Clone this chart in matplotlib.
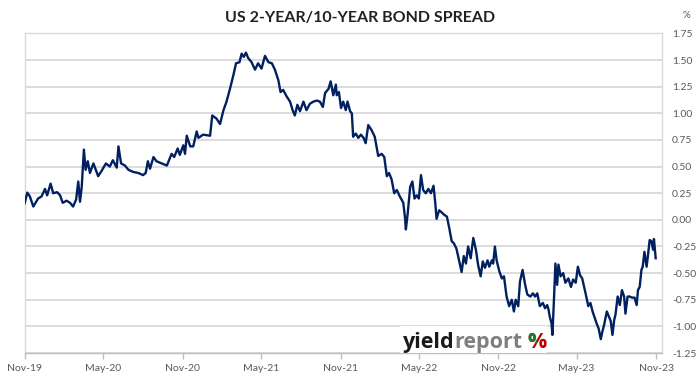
import matplotlib
matplotlib.use("Agg")
import matplotlib.pyplot as plt
import matplotlib.dates as mdates
from matplotlib.patches import Rectangle
from matplotlib.ticker import MultipleLocator, FormatStrFormatter
import pandas as pd

TITLE = "US 2-YEAR/10-YEAR BOND SPREAD"
START = "2019-11-01"

# days after START
day_offsets = [
    0, 6, 12, 20, 31, 39, 47, 52, 60, 66, 75, 82, 88, 97, 105, 112, 119, 124, 128, 132,
    137, 141, 146, 151, 159, 170, 178, 188, 197, 204, 213, 217, 223, 232,
    240, 251, 263, 274, 280, 285, 290, 298, 305, 317, 329, 340, 346, 354, 359, 367,
    371, 375, 383, 390, 398, 402, 413, 429, 434, 444, 452, 460, 467, 475, 483,
    489, 497, 502, 507, 512, 517, 525, 533, 540, 548, 556, 564, 572, 579, 587,
    592, 598, 606, 614, 620, 625, 631, 637, 645, 652, 660, 668, 676, 683, 690,
    695, 703, 708, 714, 720,
    722, 727, 732, 737, 743, 747, 753, 757, 760, 766, 772, 778, 784, 789, 795,
    803, 810, 818, 826, 832, 838, 843, 849, 855, 861, 868, 876, 880, 882, 886,
    892, 897, 902, 907, 912, 917, 922, 928, 934, 940, 946, 950, 953, 959, 965, 970,
    977, 983, 988, 993, 999, 1005, 1011, 1016, 1021, 1026, 1032, 1038, 1044, 1049,
    1055, 1060, 1065, 1071, 1075, 1081, 1084, 1088, 1092, 1098, 1104, 1109, 1115,
    1121, 1127, 1132, 1136, 1142, 1146, 1152, 1158, 1163, 1170, 1176, 1181, 1186,
    1192, 1199, 1204, 1209,
    1212, 1215, 1219, 1221, 1224, 1228, 1232, 1235, 1240, 1246, 1251, 1258, 1264,
    1269, 1275, 1280, 1285, 1290, 1295, 1300, 1304, 1309, 1314, 1319, 1324, 1328,
    1333, 1336, 1341, 1347, 1350, 1356, 1360, 1364, 1367, 1372, 1377, 1382, 1387,
    1390, 1395, 1400, 1405, 1411, 1416, 1419, 1423, 1427, 1430, 1434, 1439, 1442,
    1446, 1450, 1454, 1456, 1460,
]

# 10y minus 2y yield, %
spread = [
    0.156, 0.256, 0.22, 0.125, 0.20, 0.22, 0.29, 0.23, 0.34, 0.25, 0.26, 0.23, 0.16, 0.18, 0.16, 0.125, 0.19, 0.36, 0.17, 0.31,
    0.66, 0.47, 0.55, 0.44, 0.53, 0.41, 0.46, 0.53, 0.50, 0.56, 0.49, 0.69, 0.53, 0.51,
    0.47, 0.45, 0.44, 0.42, 0.44, 0.55, 0.48, 0.59, 0.55, 0.53, 0.51, 0.62, 0.59, 0.67, 0.61, 0.70,
    0.62, 0.79, 0.69, 0.69, 0.83, 0.77, 0.80, 0.79, 0.98, 0.95, 0.90, 1.03, 1.11, 1.23, 1.36,
    1.47, 1.48, 1.56, 1.53, 1.57, 1.52, 1.48, 1.41, 1.47, 1.42, 1.54, 1.48, 1.47, 1.41, 1.31,
    1.20, 1.22, 1.16, 1.11, 1.03, 0.98, 1.08, 1.02, 1.11, 1.03, 1.09, 1.11, 1.12, 1.11, 1.06,
    1.19, 1.23, 1.30, 1.17, 1.27,
    1.17, 1.20, 1.05, 1.11, 1.03, 1.11, 1.02, 1.00, 0.78, 0.81, 0.77, 0.80, 0.77, 0.72, 0.89,
    0.84, 0.78, 0.60, 0.62, 0.59, 0.41, 0.44, 0.38, 0.25, 0.28, 0.22, 0.16, 0.02, -0.09, 0.05,
    0.31, 0.36, 0.20, 0.23, 0.20, 0.42, 0.28, 0.25, 0.29, 0.25, 0.32, 0.16, 0.01, 0.09, 0.07, 0.05,
    0.03, -0.09, -0.20, -0.22, -0.27, -0.38, -0.49, -0.34, -0.41, -0.25, -0.36, -0.17, -0.28, -0.42,
    -0.53, -0.39, -0.45, -0.38, -0.44, -0.38, -0.41, -0.25, -0.38, -0.48, -0.55, -0.53, -0.72,
    -0.81, -0.75, -0.86, -0.75, -0.81, -0.58, -0.47, -0.61, -0.70, -0.72, -0.69, -0.72, -0.69,
    -0.81, -0.78, -0.83, -0.80,
    -0.84, -0.91, -0.97, -1.08, -0.81, -0.41, -0.61, -0.42, -0.53, -0.50, -0.59, -0.55, -0.63,
    -0.56, -0.59, -0.44, -0.52, -0.55, -0.64, -0.73, -0.81, -0.78, -0.86, -0.92, -0.98, -1.02,
    -1.12, -1.06, -0.98, -0.86, -0.89, -0.95, -1.08, -0.94, -0.89, -0.72, -0.80, -0.66, -0.72,
    -0.88, -0.72, -0.72, -0.73, -0.73, -0.80, -0.66, -0.63, -0.47, -0.44, -0.30, -0.44, -0.34,
    -0.19, -0.20, -0.28, -0.18, -0.36,
]

LINE_COLOR = "#002060"
GRID_COLOR = "#d9d9d9"
TEXT_COLOR = "#595959"


def main():
    dates = pd.to_datetime(START) + pd.to_timedelta(day_offsets, unit="D")

    fig = plt.figure(figsize=(6.99, 3.85), dpi=100)
    ax = fig.add_axes([0.0353, 0.0831, 0.912, 0.830])

    ax.plot(dates, spread, color=LINE_COLOR, linewidth=1.7, zorder=3)

    # y axis on the right, Excel style
    ax.set_ylim(-1.25, 1.75)
    ax.yaxis.set_major_locator(MultipleLocator(0.25))
    ax.yaxis.set_major_formatter(FormatStrFormatter("%.2f"))
    ax.yaxis.tick_right()
    ax.tick_params(axis="y", length=0, pad=7, labelsize=7.5, labelcolor=TEXT_COLOR)
    ax.grid(axis="y", color=GRID_COLOR, linewidth=1.3, zorder=0)

    ax.set_xlim(pd.Timestamp("2019-11-01"), pd.Timestamp("2023-11-15"))
    ax.xaxis.set_major_locator(mdates.MonthLocator(bymonth=(5, 11)))
    ax.xaxis.set_major_formatter(mdates.DateFormatter("%b-%y"))
    ax.tick_params(axis="x", length=4, width=1, color="#bfbfbf", pad=4,
                   labelsize=7.5, labelcolor=TEXT_COLOR)

    for side in ["top", "right", "left"]:
        ax.spines[side].set_color(GRID_COLOR)
        ax.spines[side].set_linewidth(1.0)
    ax.spines["bottom"].set_color("#bfbfbf")
    ax.spines["bottom"].set_linewidth(1.0)

    for lbl in ax.get_xticklabels() + ax.get_yticklabels():
        lbl.set_fontfamily("Lato")

    fig.text(360 / 699, 1 - 18 / 385, TITLE, ha="center", va="center",
             fontsize=11.5, fontweight="bold", family="Lato", color="#222222")
    fig.text(686 / 699, 1 - 16 / 385, "%", ha="center", va="center",
             fontsize=7, family="Lato", color=TEXT_COLOR)

    # yieldreport logo
    fig.patches.append(Rectangle((400 / 699, 1 - 353 / 385), 147 / 699, 27 / 385,
                                 transform=fig.transFigure, facecolor="white",
                                 edgecolor="none", zorder=4))
    base_y = 1 - 348 / 385
    t1 = fig.text(403 / 699, base_y, "yield", ha="left", va="baseline",
                  fontsize=15.5, fontweight="bold", family="Open Sans",
                  color="#1a1a1a", zorder=5)
    fig.canvas.draw()
    r = fig.canvas.get_renderer()
    bb1 = t1.get_window_extent(r)
    t2 = fig.text(bb1.x1 / fig.bbox.width, base_y, "report", ha="left",
                  va="baseline", fontsize=15.5, fontweight="bold",
                  family="Open Sans", color="#7f7f7f", zorder=5)
    fig.canvas.draw()
    bb2 = t2.get_window_extent(r)
    px = (bb2.x1 + 5) / fig.bbox.width
    pct_red = fig.text(px, base_y, "%", ha="left", va="baseline", fontsize=15.5,
                       fontweight="bold", family="Open Sans", color="#c00000", zorder=5)
    pct_green = fig.text(px, base_y, "%", ha="left", va="baseline", fontsize=15.5,
                         fontweight="bold", family="Open Sans", color="#217a2b", zorder=6)
    fig.canvas.draw()
    bbp = pct_red.get_window_extent(r)
    clip = matplotlib.transforms.Bbox.from_extents(
        bbp.x0 - 2, bbp.y0 + bbp.height * 0.45, bbp.x0 + bbp.width * 0.5, bbp.y1 + 2)
    pct_green.set_clip_on(True)
    pct_green.set_clip_box(clip)

    fig.savefig("out.png", dpi=100)


if __name__ == "__main__":
    main()
